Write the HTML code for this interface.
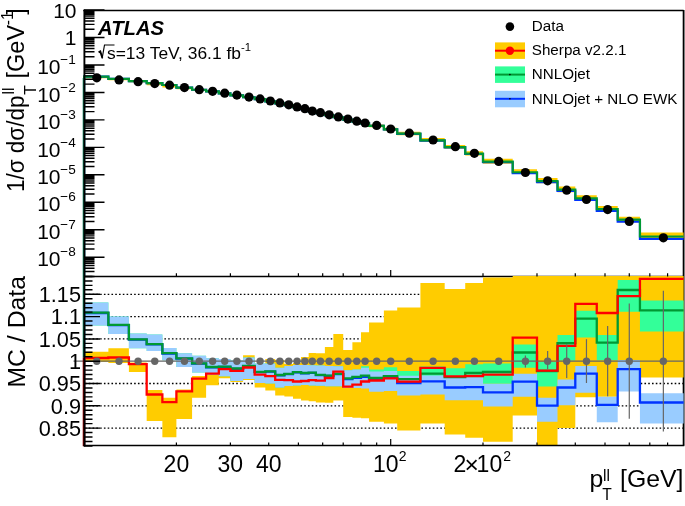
<!DOCTYPE html>
<html><head><meta charset="utf-8"><title>ATLAS pTll</title>
<style>html,body{margin:0;padding:0;background:#fff}svg{display:block}</style></head>
<body>
<svg width="685" height="506" viewBox="0 0 685 506" font-family="Liberation Sans, Arial, Helvetica, sans-serif">
<rect width="685" height="506" fill="#fff"/>
<defs><clipPath id="cb"><rect x="84" y="276" width="600.3" height="170"/></clipPath><clipPath id="ct"><rect x="83" y="10" width="601.3" height="266.5"/></clipPath></defs>
<g stroke="#000" stroke-width="1.5" fill="none">
<path d="M83.3 10.4 H683.6"/>
<path d="M683.6 10 V445.6" stroke-width="1.8"/>
<path d="M83.3 276.5 H683.6"/>
</g>
<g stroke="#000" stroke-width="1.3" stroke-dasharray="1.6 2.18" fill="none">
<path d="M85 294.3 H683.6"/>
<path d="M85 316.6 H683.6"/>
<path d="M85 338.9 H683.6"/>
<path d="M85 383.5 H683.6"/>
<path d="M85 405.8 H683.6"/>
<path d="M85 428.1 H683.6"/>
</g>
<g clip-path="url(#cb)">
<path d="M84.1 351.8 L108.38 351.8 L108.38 348.2 L128.9 348.2 L128.9 362.5 L146.68 362.5 L146.68 390 L162.37 390 L162.37 397.7 L176.4 397.7 L176.4 389.5 L192.08 389.5 L192.08 376 L206.11 376 L206.11 371.5 L218.8 371.5 L218.8 367 L230.39 367 L230.39 368 L243.08 368 L243.08 355.3 L254.66 355.3 L254.66 366 L265.32 366 L265.32 359 L275.19 359 L275.19 360 L284.37 360 L284.37 364 L292.97 364 L292.97 363 L301.04 363 L301.04 357.1 L308.65 357.1 L308.65 352.9 L315.85 352.9 L315.85 353.2 L324.88 353.2 L324.88 347 L333.34 347 L333.34 334 L343.21 334 L343.21 350 L352.39 350 L352.39 342.2 L360.99 342.2 L360.99 332.2 L369.06 332.2 L369.06 322.6 L383.87 322.6 L383.87 310.6 L397.2 310.6 L397.2 307.5 L420.41 307.5 L420.41 283 L444.69 283 L444.69 288.9 L465.22 288.9 L465.22 283 L483 283 L483 277.6 L512.71 277.6 L512.71 276 L536.99 276 L536.99 276 L557.51 276 L557.51 276 L575.29 276 L575.29 276 L596.77 276 L596.77 276 L617.7 276 L617.7 276 L639.94 276 L639.94 276 L683.6 276 L683.6 377.6 L639.94 377.6 L639.94 391 L617.7 391 L617.7 396.8 L596.77 396.8 L596.77 397.3 L575.29 397.3 L575.29 427.9 L557.51 427.9 L557.51 445.5 L536.99 445.5 L536.99 415.4 L512.71 415.4 L512.71 441.8 L483 441.8 L483 437.7 L465.22 437.7 L465.22 434.6 L444.69 434.6 L444.69 423.4 L420.41 423.4 L420.41 430.5 L397.2 430.5 L397.2 423.4 L383.87 423.4 L383.87 421.7 L369.06 421.7 L369.06 418.2 L360.99 418.2 L360.99 417.7 L352.39 417.7 L352.39 417 L343.21 417 L343.21 400.6 L333.34 400.6 L333.34 402.8 L324.88 402.8 L324.88 402.6 L315.85 402.6 L315.85 401.3 L308.65 401.3 L308.65 400.5 L301.04 400.5 L301.04 398.8 L292.97 398.8 L292.97 396.6 L284.37 396.6 L284.37 395.5 L275.19 395.5 L275.19 390.4 L265.32 390.4 L265.32 387.4 L254.66 387.4 L254.66 380.1 L243.08 380.1 L243.08 381.9 L230.39 381.9 L230.39 378.2 L218.8 378.2 L218.8 385.3 L206.11 385.3 L206.11 397.7 L192.08 397.7 L192.08 419 L176.4 419 L176.4 437.3 L162.37 437.3 L162.37 421.1 L146.68 421.1 L146.68 371.9 L128.9 371.9 L128.9 363 L108.38 363 L108.38 362 L84.1 362Z" fill="#ffcc00"/>
<path d="M84.1 302.4 L108.38 302.4 L108.38 316.6 L128.9 316.6 L128.9 333.6 L146.68 333.6 L146.68 334.4 L162.37 334.4 L162.37 347.9 L176.4 347.9 L176.4 353.2 L192.08 353.2 L192.08 355.8 L206.11 355.8 L206.11 358.2 L218.8 358.2 L218.8 359 L230.39 359 L230.39 360.5 L243.08 360.5 L243.08 357.5 L254.66 357.5 L254.66 363.4 L265.32 363.4 L265.32 363.4 L275.19 363.4 L275.19 367.7 L284.37 367.7 L284.37 365.9 L292.97 365.9 L292.97 365 L301.04 365 L301.04 365 L308.65 365 L308.65 365.3 L315.85 365.3 L315.85 365.6 L324.88 365.6 L324.88 365.9 L333.34 365.9 L333.34 366.2 L343.21 366.2 L343.21 370.3 L352.39 370.3 L352.39 369.4 L360.99 369.4 L360.99 366.2 L369.06 366.2 L369.06 369.4 L383.87 369.4 L383.87 367.3 L397.2 367.3 L397.2 371.1 L420.41 371.1 L420.41 366.6 L444.69 366.6 L444.69 368.3 L465.22 368.3 L465.22 364.2 L483 364.2 L483 363.5 L512.71 363.5 L512.71 344.5 L536.99 344.5 L536.99 362 L557.51 362 L557.51 335.1 L575.29 335.1 L575.29 310.7 L596.77 310.7 L596.77 335 L617.7 335 L617.7 279.9 L639.94 279.9 L639.94 300.6 L683.6 300.6 L683.6 331.4 L639.94 331.4 L639.94 311.8 L617.7 311.8 L617.7 360.3 L596.77 360.3 L596.77 337.6 L575.29 337.6 L575.29 360.4 L557.51 360.4 L557.51 386.6 L536.99 386.6 L536.99 367.8 L512.71 367.8 L512.71 383.8 L483 383.8 L483 381.4 L465.22 381.4 L465.22 386.1 L444.69 386.1 L444.69 380.8 L420.41 380.8 L420.41 387.1 L397.2 387.1 L397.2 385.1 L383.87 385.1 L383.87 386.6 L369.06 386.6 L369.06 385.2 L360.99 385.2 L360.99 388.1 L352.39 388.1 L352.39 388.1 L343.21 388.1 L343.21 386.3 L333.34 386.3 L333.34 386.3 L324.88 386.3 L324.88 385.8 L315.85 385.8 L315.85 385.4 L308.65 385.4 L308.65 385.1 L301.04 385.1 L301.04 385.5 L292.97 385.5 L292.97 386 L284.37 386 L284.37 387.4 L275.19 387.4 L275.19 383.5 L265.32 383.5 L265.32 383.1 L254.66 383.1 L254.66 379.1 L243.08 379.1 L243.08 380.9 L230.39 380.9 L230.39 376.2 L218.8 376.2 L218.8 375 L206.11 375 L206.11 372.4 L192.08 372.4 L192.08 367.1 L176.4 367.1 L176.4 360.3 L162.37 360.3 L162.37 350.9 L146.68 350.9 L146.68 348.2 L128.9 348.2 L128.9 334 L108.38 334 L108.38 325.5 L84.1 325.5Z" fill="#33ff99"/>
<path d="M84.1 302.4 L108.38 302.4 L108.38 316.6 L128.9 316.6 L128.9 333.6 L146.68 333.6 L146.68 334.4 L162.37 334.4 L162.37 347.9 L176.4 347.9 L176.4 353.2 L192.08 353.2 L192.08 355.8 L206.11 355.8 L206.11 358.2 L218.8 358.2 L218.8 359 L230.39 359 L230.39 360.5 L243.08 360.5 L243.08 357.5 L254.66 357.5 L254.66 363.4 L265.32 363.4 L265.32 363.4 L275.19 363.4 L275.19 367.7 L284.37 367.7 L284.37 365.9 L292.97 365.9 L292.97 365 L301.04 365 L301.04 365 L308.65 365 L308.65 365.3 L315.85 365.3 L315.85 365.6 L324.88 365.6 L324.88 365.9 L333.34 365.9 L333.34 366.2 L343.21 366.2 L343.21 370.3 L352.39 370.3 L352.39 369.4 L360.99 369.4 L360.99 367.7 L369.06 367.7 L369.06 371.6 L383.87 371.6 L383.87 370.9 L397.2 370.9 L397.2 375.8 L420.41 375.8 L420.41 375.4 L444.69 375.4 L444.69 378.1 L465.22 378.1 L465.22 377.2 L483 377.2 L483 383.8 L512.71 383.8 L512.71 373.7 L536.99 373.7 L536.99 397.7 L557.51 397.7 L557.51 379.5 L575.29 379.5 L575.29 366 L596.77 366 L596.77 396.8 L617.7 396.8 L617.7 360 L639.94 360 L639.94 393.3 L683.6 393.3 L683.6 423.5 L639.94 423.5 L639.94 391.5 L617.7 391.5 L617.7 422.2 L596.77 422.2 L596.77 392.7 L575.29 392.7 L575.29 405.3 L557.51 405.3 L557.51 421.7 L536.99 421.7 L536.99 396.8 L512.71 396.8 L512.71 406.6 L483 406.6 L483 400.3 L465.22 400.3 L465.22 400.3 L444.69 400.3 L444.69 394.5 L420.41 394.5 L420.41 395.6 L397.2 395.6 L397.2 391.1 L383.87 391.1 L383.87 391.7 L369.06 391.7 L369.06 388.6 L360.99 388.6 L360.99 388.1 L352.39 388.1 L352.39 388.1 L343.21 388.1 L343.21 386.3 L333.34 386.3 L333.34 386.3 L324.88 386.3 L324.88 385.8 L315.85 385.8 L315.85 385.4 L308.65 385.4 L308.65 385.1 L301.04 385.1 L301.04 385.5 L292.97 385.5 L292.97 386 L284.37 386 L284.37 387.4 L275.19 387.4 L275.19 383.5 L265.32 383.5 L265.32 383.1 L254.66 383.1 L254.66 379.1 L243.08 379.1 L243.08 380.9 L230.39 380.9 L230.39 376.2 L218.8 376.2 L218.8 375 L206.11 375 L206.11 372.4 L192.08 372.4 L192.08 367.1 L176.4 367.1 L176.4 360.3 L162.37 360.3 L162.37 350.9 L146.68 350.9 L146.68 348.2 L128.9 348.2 L128.9 334 L108.38 334 L108.38 325.5 L84.1 325.5Z" fill="#99ccff"/>
<path d="M84.1 450.6 L84.1 313 L108.38 313 L108.38 325.1 L128.9 325.1 L128.9 339.6 L146.68 339.6 L146.68 344.4 L162.37 344.4 L162.37 353.5 L176.4 353.5 L176.4 358.7 L192.08 358.7 L192.08 363.7 L206.11 363.7 L206.11 367.3 L218.8 367.3 L218.8 367 L230.39 367 L230.39 368.8 L243.08 368.8 L243.08 366.3 L254.66 366.3 L254.66 372.1 L265.32 372.1 L265.32 371.7 L275.19 371.7 L275.19 375.3 L284.37 375.3 L284.37 374.2 L292.97 374.2 L292.97 372.4 L301.04 372.4 L301.04 373.3 L308.65 373.3 L308.65 372.9 L315.85 372.9 L315.85 375.1 L324.88 375.1 L324.88 376 L333.34 376 L333.34 374.2 L343.21 374.2 L343.21 379.2 L352.39 379.2 L352.39 377.8 L360.99 377.8 L360.99 376.9 L369.06 376.9 L369.06 378.9 L383.87 378.9 L383.87 377.6 L397.2 377.6 L397.2 383.2 L420.41 383.2 L420.41 381.3 L444.69 381.3 L444.69 387.5 L465.22 387.5 L465.22 387.2 L483 387.2 L483 392.3 L512.71 392.3 L512.71 381.7 L536.99 381.7 L536.99 405.7 L557.51 405.7 L557.51 387.5 L575.29 387.5 L575.29 373.7 L596.77 373.7 L596.77 404.8 L617.7 404.8 L617.7 369.2 L639.94 369.2 L639.94 402.5 L683.6 402.5" fill="none" stroke="#0033ff" stroke-width="2.3"/>
<path d="M84.1 450.6 L84.1 312.7 L108.38 312.7 L108.38 324.8 L128.9 324.8 L128.9 339.3 L146.68 339.3 L146.68 344.1 L162.37 344.1 L162.37 353.2 L176.4 353.2 L176.4 358.4 L192.08 358.4 L192.08 363.4 L206.11 363.4 L206.11 367 L218.8 367 L218.8 366.7 L230.39 366.7 L230.39 368.5 L243.08 368.5 L243.08 366 L254.66 366 L254.66 371.8 L265.32 371.8 L265.32 371.4 L275.19 371.4 L275.19 375 L284.37 375 L284.37 373.9 L292.97 373.9 L292.97 372.1 L301.04 372.1 L301.04 373 L308.65 373 L308.65 372.6 L315.85 372.6 L315.85 374.8 L324.88 374.8 L324.88 375.7 L333.34 375.7 L333.34 373.9 L343.21 373.9 L343.21 378.3 L352.39 378.3 L352.39 376.9 L360.99 376.9 L360.99 375.7 L369.06 375.7 L369.06 378 L383.87 378 L383.87 376.2 L397.2 376.2 L397.2 379.1 L420.41 379.1 L420.41 373.7 L444.69 373.7 L444.69 377.2 L465.22 377.2 L465.22 372.8 L483 372.8 L483 371.9 L512.71 371.9 L512.71 352.5 L536.99 352.5 L536.99 371 L557.51 371 L557.51 343.1 L575.29 343.1 L575.29 318.7 L596.77 318.7 L596.77 342.7 L617.7 342.7 L617.7 290 L639.94 290 L639.94 310.4 L683.6 310.4" fill="none" stroke="#009933" stroke-width="2.3"/>
<path d="M84.1 450.6 L84.1 358 L108.38 358 L108.38 357.5 L128.9 357.5 L128.9 364.2 L146.68 364.2 L146.68 394.5 L162.37 394.5 L162.37 402.1 L176.4 402.1 L176.4 391.4 L192.08 391.4 L192.08 378.6 L206.11 378.6 L206.11 373.6 L218.8 373.6 L218.8 369.1 L230.39 369.1 L230.39 370.8 L243.08 370.8 L243.08 367.5 L254.66 367.5 L254.66 374.7 L265.32 374.7 L265.32 376.2 L275.19 376.2 L275.19 379.8 L284.37 379.8 L284.37 380.1 L292.97 380.1 L292.97 381.5 L301.04 381.5 L301.04 381 L308.65 381 L308.65 380.1 L315.85 380.1 L315.85 380.6 L324.88 380.6 L324.88 378 L333.34 378 L333.34 371.6 L343.21 371.6 L343.21 386.7 L352.39 386.7 L352.39 384.6 L360.99 384.6 L360.99 381.5 L369.06 381.5 L369.06 380.5 L383.87 380.5 L383.87 378.3 L397.2 378.3 L397.2 381.6 L420.41 381.6 L420.41 367.8 L444.69 367.8 L444.69 376.3 L465.22 376.3 L465.22 376 L483 376 L483 374.6 L512.71 374.6 L512.71 337.6 L536.99 337.6 L536.99 370.6 L557.51 370.6 L557.51 345.8 L575.29 345.8 L575.29 303.8 L596.77 303.8 L596.77 313 L617.7 313 L617.7 296.1 L639.94 296.1 L639.94 278.9 L683.6 278.9" fill="none" stroke="#ff0000" stroke-width="2.3"/>
</g>
<path d="M73.5 361.2 H683.6" stroke="#666666" stroke-width="1.3"/>
<g stroke="#666666" stroke-width="1.2">
<path d="M525.4 355.4 V367.4"/>
<path d="M547.64 351.1 V369.2"/>
<path d="M566.7 344.3 V378.1"/>
<path d="M586.46 339.2 V383"/>
<path d="M607.64 326 V396.2"/>
<path d="M629.28 303.5 V418.7"/>
<path d="M663.36 290.8 V431.5"/>
</g>
<g fill="#666666">
<circle cx="96.79" cy="361.2" r="3.7"/>
<circle cx="119.04" cy="361.2" r="3.7"/>
<circle cx="138.09" cy="361.2" r="3.7"/>
<circle cx="154.76" cy="361.2" r="3.7"/>
<circle cx="169.57" cy="361.2" r="3.7"/>
<circle cx="184.47" cy="361.2" r="3.7"/>
<circle cx="199.28" cy="361.2" r="3.7"/>
<circle cx="212.61" cy="361.2" r="3.7"/>
<circle cx="224.72" cy="361.2" r="3.7"/>
<circle cx="236.88" cy="361.2" r="3.7"/>
<circle cx="249" cy="361.2" r="3.7"/>
<circle cx="260.1" cy="361.2" r="3.7"/>
<circle cx="270.35" cy="361.2" r="3.7"/>
<circle cx="279.86" cy="361.2" r="3.7"/>
<circle cx="288.74" cy="361.2" r="3.7"/>
<circle cx="297.07" cy="361.2" r="3.7"/>
<circle cx="304.9" cy="361.2" r="3.7"/>
<circle cx="312.3" cy="361.2" r="3.7"/>
<circle cx="320.44" cy="361.2" r="3.7"/>
<circle cx="329.18" cy="361.2" r="3.7"/>
<circle cx="338.36" cy="361.2" r="3.7"/>
<circle cx="347.88" cy="361.2" r="3.7"/>
<circle cx="356.76" cy="361.2" r="3.7"/>
<circle cx="365.08" cy="361.2" r="3.7"/>
<circle cx="376.67" cy="361.2" r="3.7"/>
<circle cx="390.7" cy="361.2" r="3.7"/>
<circle cx="409.31" cy="361.2" r="3.7"/>
<circle cx="433.1" cy="361.2" r="3.7"/>
<circle cx="455.35" cy="361.2" r="3.7"/>
<circle cx="474.4" cy="361.2" r="3.7"/>
<circle cx="498.68" cy="361.2" r="3.7"/>
<circle cx="525.4" cy="361.2" r="3.7"/>
<circle cx="547.64" cy="361.2" r="3.7"/>
<circle cx="566.7" cy="361.2" r="3.7"/>
<circle cx="586.46" cy="361.2" r="3.7"/>
<circle cx="607.64" cy="361.2" r="3.7"/>
<circle cx="629.28" cy="361.2" r="3.7"/>
<circle cx="663.36" cy="361.2" r="3.7"/>
</g>
<g clip-path="url(#ct)">
<path d="M84.1 77.21 L108.38 77.21 L108.38 79.3 L128.9 79.3 L128.9 81.28 L146.68 81.28 L146.68 84.03 L162.37 84.03 L162.37 85.85 L176.4 85.85 L176.4 87.94 L192.08 87.94 L192.08 89.68 L206.11 89.68 L206.11 91.14 L218.8 91.14 L218.8 92.91 L230.39 92.91 L230.39 94.86 L243.08 94.86 L243.08 96.77 L254.66 96.77 L254.66 98.77 L265.32 98.77 L265.32 100.91 L275.19 100.91 L275.19 102.87 L284.37 102.87 L284.37 104.82 L292.97 104.82 L292.97 106.95 L301.04 106.95 L301.04 108.59 L308.65 108.59 L308.65 110.88 L315.85 110.88 L315.85 112.49 L324.88 112.49 L324.88 114.42 L333.34 114.42 L333.34 116.19 L343.21 116.19 L343.21 118.8 L352.39 118.8 L352.39 120.7 L360.99 120.7 L360.99 122.25 L369.06 122.25 L369.06 124.41 L383.87 124.41 L383.87 127.71 L397.2 127.71 L397.2 131.84 L420.41 131.84 L420.41 138.06 L444.69 138.06 L444.69 144.9 L465.22 144.9 L465.22 151.36 L483 151.36 L483 158.83 L512.71 158.83 L512.71 169.19 L536.99 169.19 L536.99 177.95 L557.51 177.95 L557.51 186.62 L575.29 186.62 L575.29 195.32 L596.77 195.32 L596.77 206.02 L617.7 206.02 L617.7 216.8 L639.94 216.8 L639.94 232.42 L683.6 232.42 L683.6 238.25 L639.94 238.25 L639.94 222.23 L617.7 222.23 L617.7 210.6 L596.77 210.6 L596.77 200.51 L575.29 200.51 L575.29 192.14 L557.51 192.14 L557.51 183.31 L536.99 183.31 L536.99 174.05 L512.71 174.05 L512.71 163.79 L483 163.79 L483 155.56 L465.22 155.56 L465.22 148.86 L444.69 148.86 L444.69 141.8 L420.41 141.8 L420.41 135.22 L397.2 135.22 L397.2 130.8 L383.87 130.8 L383.87 127.15 L369.06 127.15 L369.06 124.64 L360.99 124.64 L360.99 122.82 L352.39 122.82 L352.39 120.7 L343.21 120.7 L343.21 118.01 L333.34 118.01 L333.34 115.97 L324.88 115.97 L324.88 113.87 L315.85 113.87 L315.85 112.23 L308.65 112.23 L308.65 109.81 L301.04 109.81 L301.04 107.96 L292.97 107.96 L292.97 105.82 L284.37 105.82 L284.37 103.91 L275.19 103.91 L275.19 101.91 L265.32 101.91 L265.32 99.77 L254.66 99.77 L254.66 97.77 L243.08 97.77 L243.08 95.86 L230.39 95.86 L230.39 93.91 L218.8 93.91 L218.8 92.14 L206.11 92.14 L206.11 90.72 L192.08 90.72 L192.08 89.26 L176.4 89.26 L176.4 87.44 L162.37 87.44 L162.37 85.33 L146.68 85.33 L146.68 82.28 L128.9 82.28 L128.9 80.3 L108.38 80.3 L108.38 78.21 L84.1 78.21Z" fill="#ffcc00"/>
<path d="M84.1 281.5 L84.1 76.57 L108.38 76.57 L108.38 78.97 L128.9 78.97 L128.9 81.13 L146.68 81.13 L146.68 83.16 L162.37 83.16 L162.37 84.99 L176.4 84.99 L176.4 87.53 L192.08 87.53 L192.08 89.77 L206.11 89.77 L206.11 91.47 L218.8 91.47 L218.8 93.36 L230.39 93.36 L230.39 95.31 L243.08 95.31 L243.08 97.24 L254.66 97.24 L254.66 99.2 L265.32 99.2 L265.32 101.29 L275.19 101.29 L275.19 103.29 L284.37 103.29 L284.37 105.15 L292.97 105.15 L292.97 107.2 L301.04 107.2 L301.04 109.03 L308.65 109.03 L308.65 111.42 L315.85 111.42 L315.85 113.08 L324.88 113.08 L324.88 115.2 L333.34 115.2 L333.34 117.25 L343.21 117.25 L343.21 119.59 L352.39 119.59 L352.39 121.65 L360.99 121.65 L360.99 123.43 L369.06 123.43 L369.06 125.89 L383.87 125.89 L383.87 129.45 L397.2 129.45 L397.2 133.81 L420.41 133.81 L420.41 140.55 L444.69 140.55 L444.69 147.43 L465.22 147.43 L465.22 154.02 L483 154.02 L483 162.27 L512.71 162.27 L512.71 173.06 L536.99 173.06 L536.99 182.06 L557.51 182.06 L557.51 190.93 L575.29 190.93 L575.29 199.84 L596.77 199.84 L596.77 210.83 L617.7 210.83 L617.7 221.62 L639.94 221.62 L639.94 238.96 L683.6 238.96" fill="none" stroke="#0033ff" stroke-width="2.2"/>
<path d="M84.1 281.5 L84.1 76.56 L108.38 76.56 L108.38 78.96 L128.9 78.96 L128.9 81.13 L146.68 81.13 L146.68 83.15 L162.37 83.15 L162.37 84.99 L176.4 84.99 L176.4 87.53 L192.08 87.53 L192.08 89.76 L206.11 89.76 L206.11 91.46 L218.8 91.46 L218.8 93.35 L230.39 93.35 L230.39 95.3 L243.08 95.3 L243.08 97.23 L254.66 97.23 L254.66 99.19 L265.32 99.19 L265.32 101.28 L275.19 101.28 L275.19 103.28 L284.37 103.28 L284.37 105.15 L292.97 105.15 L292.97 107.2 L301.04 107.2 L301.04 109.02 L308.65 109.02 L308.65 111.41 L315.85 111.41 L315.85 113.07 L324.88 113.07 L324.88 115.2 L333.34 115.2 L333.34 117.25 L343.21 117.25 L343.21 119.57 L352.39 119.57 L352.39 121.63 L360.99 121.63 L360.99 123.4 L369.06 123.4 L369.06 125.86 L383.87 125.86 L383.87 129.41 L397.2 129.41 L397.2 133.69 L420.41 133.69 L420.41 140.34 L444.69 140.34 L444.69 147.14 L465.22 147.14 L465.22 153.62 L483 153.62 L483 161.69 L512.71 161.69 L512.71 172.27 L536.99 172.27 L536.99 181.07 L557.51 181.07 L557.51 189.72 L575.29 189.72 L575.29 198.41 L596.77 198.41 L596.77 209.11 L617.7 209.11 L617.7 219.63 L639.94 219.63 L639.94 236.51 L683.6 236.51" fill="none" stroke="#009933" stroke-width="2.2"/>
</g>
<g fill="#000">
<circle cx="96.79" cy="77.8" r="4.6"/>
<circle cx="119.04" cy="79.9" r="4.6"/>
<circle cx="138.09" cy="81.7" r="4.6"/>
<circle cx="154.76" cy="83.6" r="4.6"/>
<circle cx="169.57" cy="85.2" r="4.6"/>
<circle cx="184.47" cy="87.6" r="4.6"/>
<circle cx="199.28" cy="89.7" r="4.6"/>
<circle cx="212.61" cy="91.3" r="4.6"/>
<circle cx="224.72" cy="93.2" r="4.6"/>
<circle cx="236.88" cy="95.1" r="4.6"/>
<circle cx="249" cy="97.1" r="4.6"/>
<circle cx="260.1" cy="98.9" r="4.6"/>
<circle cx="270.35" cy="101" r="4.6"/>
<circle cx="279.86" cy="102.9" r="4.6"/>
<circle cx="288.74" cy="104.8" r="4.6"/>
<circle cx="297.07" cy="106.9" r="4.6"/>
<circle cx="304.9" cy="108.7" r="4.6"/>
<circle cx="312.3" cy="111.1" r="4.6"/>
<circle cx="320.44" cy="112.7" r="4.6"/>
<circle cx="329.18" cy="114.8" r="4.6"/>
<circle cx="338.36" cy="116.9" r="4.6"/>
<circle cx="347.88" cy="119.1" r="4.6"/>
<circle cx="356.76" cy="121.2" r="4.6"/>
<circle cx="365.08" cy="123" r="4.6"/>
<circle cx="376.67" cy="125.4" r="4.6"/>
<circle cx="390.7" cy="129" r="4.6"/>
<circle cx="409.31" cy="133.2" r="4.6"/>
<circle cx="433.1" cy="140" r="4.6"/>
<circle cx="455.35" cy="146.7" r="4.6"/>
<circle cx="474.4" cy="153.3" r="4.6"/>
<circle cx="498.68" cy="161.4" r="4.6"/>
<circle cx="525.4" cy="172.5" r="4.6"/>
<circle cx="547.64" cy="180.8" r="4.6"/>
<circle cx="566.7" cy="190.2" r="4.6"/>
<circle cx="586.46" cy="199.5" r="4.6"/>
<circle cx="607.64" cy="209.6" r="4.6"/>
<circle cx="629.28" cy="221.4" r="4.6"/>
<circle cx="663.36" cy="237.8" r="4.6"/>
</g>
<path d="M83.4 78 V357.5" stroke="#08805c" stroke-width="1.4"/><path d="M83.4 357.5 V446.2" stroke="#a00000" stroke-width="1.4"/>
<g stroke="#000" fill="none">
<path d="M84.4 9.7 V446.3" stroke-width="1.9"/>
<path d="M83.5 445.6 H684.3" stroke-width="1.5"/>
<path d="M84 10 h20.5 M84 29.2 h10.5 M84 24.36 h10.5 M84 20.93 h10.5 M84 18.27 h10.5 M84 16.09 h10.5 M84 14.26 h10.5 M84 12.66 h10.5 M84 11.26 h10.5 M84 37.47 h20.5 M84 56.67 h10.5 M84 51.83 h10.5 M84 48.4 h10.5 M84 45.74 h10.5 M84 43.56 h10.5 M84 41.73 h10.5 M84 40.13 h10.5 M84 38.73 h10.5 M84 64.94 h20.5 M84 84.14 h10.5 M84 79.3 h10.5 M84 75.87 h10.5 M84 73.21 h10.5 M84 71.03 h10.5 M84 69.2 h10.5 M84 67.6 h10.5 M84 66.2 h10.5 M84 92.41 h20.5 M84 111.61 h10.5 M84 106.77 h10.5 M84 103.34 h10.5 M84 100.68 h10.5 M84 98.5 h10.5 M84 96.67 h10.5 M84 95.07 h10.5 M84 93.67 h10.5 M84 119.88 h20.5 M84 139.08 h10.5 M84 134.24 h10.5 M84 130.81 h10.5 M84 128.15 h10.5 M84 125.97 h10.5 M84 124.14 h10.5 M84 122.54 h10.5 M84 121.14 h10.5 M84 147.35 h20.5 M84 166.55 h10.5 M84 161.71 h10.5 M84 158.28 h10.5 M84 155.62 h10.5 M84 153.44 h10.5 M84 151.61 h10.5 M84 150.01 h10.5 M84 148.61 h10.5 M84 174.82 h20.5 M84 194.02 h10.5 M84 189.18 h10.5 M84 185.75 h10.5 M84 183.09 h10.5 M84 180.91 h10.5 M84 179.08 h10.5 M84 177.48 h10.5 M84 176.08 h10.5 M84 202.29 h20.5 M84 221.49 h10.5 M84 216.65 h10.5 M84 213.22 h10.5 M84 210.56 h10.5 M84 208.38 h10.5 M84 206.55 h10.5 M84 204.95 h10.5 M84 203.55 h10.5 M84 229.76 h20.5 M84 248.96 h10.5 M84 244.12 h10.5 M84 240.69 h10.5 M84 238.03 h10.5 M84 235.85 h10.5 M84 234.02 h10.5 M84 232.42 h10.5 M84 231.02 h10.5 M84 257.23 h20.5 M84 276.43 h10.5 M84 271.59 h10.5 M84 268.16 h10.5 M84 265.5 h10.5 M84 263.32 h10.5 M84 261.49 h10.5 M84 259.89 h10.5 M84 258.49 h10.5 M84 271.59 h10.5 M84 268.16 h10.5 M84 265.5 h10.5 M84 263.32 h10.5 M84 261.49 h10.5 M84 259.89 h10.5 M84 258.49 h10.5" stroke-width="1.45"/>
<path d="M84 445.94 h8.5 M84 441.48 h8.5 M84 437.02 h8.5 M84 432.56 h8.5 M84 428.1 h16 M84 423.64 h8.5 M84 419.18 h8.5 M84 414.72 h8.5 M84 410.26 h8.5 M84 405.8 h16 M84 401.34 h8.5 M84 396.88 h8.5 M84 392.42 h8.5 M84 387.96 h8.5 M84 383.5 h16 M84 379.04 h8.5 M84 374.58 h8.5 M84 370.12 h8.5 M84 365.66 h8.5 M84 361.2 h16 M84 356.74 h8.5 M84 352.28 h8.5 M84 347.82 h8.5 M84 343.36 h8.5 M84 338.9 h16 M84 334.44 h8.5 M84 329.98 h8.5 M84 325.52 h8.5 M84 321.06 h8.5 M84 316.6 h16 M84 312.14 h8.5 M84 307.68 h8.5 M84 303.22 h8.5 M84 298.76 h8.5 M84 294.3 h16 M84 289.84 h8.5 M84 285.38 h8.5 M84 280.92 h8.5 M84 276.46 h8.5" stroke-width="1.45"/>
<path d="M176.4 445.6 v-3.2 M176.4 276.5 v-3.2 M230.39 445.6 v-3.2 M230.39 276.5 v-3.2 M268.69 445.6 v-3.2 M268.69 276.5 v-3.2 M298.4 445.6 v-3.2 M298.4 276.5 v-3.2 M322.68 445.6 v-3.2 M322.68 276.5 v-3.2 M343.21 445.6 v-3.2 M343.21 276.5 v-3.2 M360.99 445.6 v-3.2 M360.99 276.5 v-3.2 M376.67 445.6 v-3.2 M376.67 276.5 v-3.2 M390.7 445.6 v-6.5 M390.7 276.5 v-6.5 M483 445.6 v-3.2 M483 276.5 v-3.2 M536.99 445.6 v-3.2 M536.99 276.5 v-3.2 M575.29 445.6 v-3.2 M575.29 276.5 v-3.2 M605 445.6 v-3.2 M605 276.5 v-3.2 M629.28 445.6 v-3.2 M629.28 276.5 v-3.2 M649.81 445.6 v-3.2 M649.81 276.5 v-3.2 M667.59 445.6 v-3.2 M667.59 276.5 v-3.2" stroke-width="1.2"/>
</g>
<g font-size="21" text-anchor="end" fill="#000">
<text x="76.5" y="17.6">10</text>
<text x="76.5" y="45.07">1</text>
<text x="60.5" y="74.14">10</text><text x="75.8" y="64.14" font-size="13.6">−1</text>
<text x="60.5" y="101.61">10</text><text x="75.8" y="91.61" font-size="13.6">−2</text>
<text x="60.5" y="129.08">10</text><text x="75.8" y="119.08" font-size="13.6">−3</text>
<text x="60.5" y="156.55">10</text><text x="75.8" y="146.55" font-size="13.6">−4</text>
<text x="60.5" y="184.02">10</text><text x="75.8" y="174.02" font-size="13.6">−5</text>
<text x="60.5" y="211.49">10</text><text x="75.8" y="201.49" font-size="13.6">−6</text>
<text x="60.5" y="238.96">10</text><text x="75.8" y="228.96" font-size="13.6">−7</text>
<text x="60.5" y="266.43">10</text><text x="75.8" y="256.43" font-size="13.6">−8</text>
</g>
<g font-size="21.7" text-anchor="end" fill="#000">
<text x="81" y="302.1">1.15</text>
<text x="81" y="324.4">1.1</text>
<text x="81" y="346.7">1.05</text>
<text x="81" y="369">1</text>
<text x="81" y="391.3">0.95</text>
<text x="81" y="413.6">0.9</text>
<text x="81" y="435.9">0.85</text>
</g>
<g font-size="23" text-anchor="middle" fill="#000">
<text x="176.4" y="472.2">20</text>
<text x="230.39" y="472.2">30</text>
<text x="268.69" y="472.2">40</text>
<g text-anchor="start"><text x="372.9" y="472.2">10</text><text x="398.8" y="460.8" font-size="14">2</text><text x="453.6" y="472.2">2</text><text x="464.6" y="473.2" font-size="24.5">×</text><text x="476.6" y="472.2">10</text><text x="503.3" y="460.8" font-size="14">2</text></g>
</g>
<g font-size="24.8"><text x="589.4" y="486.8">p</text><text x="603" y="481.4" font-size="15.6">ll</text><text x="602.3" y="499.8" font-size="15.6">T</text><text x="620" y="486.8">[GeV]</text></g>
<text transform="translate(24.8 387.6) rotate(-90)" font-size="24.8">MC / Data</text>
<g transform="translate(23.7 191) rotate(-90)" font-size="23.5"><text x="-1" y="0" textLength="96.5" lengthAdjust="spacingAndGlyphs">1/σ dσ/dp</text><text x="96.3" y="12.4" font-size="15.6">T</text><text x="96.6" y="-9.5" font-size="15.6">ll</text><text x="112.5" y="0">[GeV</text><text x="165.8" y="-10.9" font-size="15.6">-1</text><text x="176.3" y="0">]</text></g>
<text x="98" y="34.5" font-size="20.3" font-weight="bold" font-style="italic">ATLAS</text>
<path d="M98.6 52.4 l1.7 -1 l2 6.3" fill="none" stroke="#000" stroke-width="1.9" stroke-linejoin="miter"/><path d="M102.1 58.6 l2.4 -13.6 h10" fill="none" stroke="#000" stroke-width="1.15"/>
<text x="107" y="58.8" font-size="17.4">s=13 TeV, 36.1 fb<tspan font-size="11.3" dy="-7.5">-1</tspan></text>
<circle cx="509.9" cy="26.6" r="4.3" fill="#000"/>
<rect x="495" y="42.4" width="30" height="16.5" fill="#ffcc00"/>
<path d="M495 50.7 h30" stroke="#ff0000" stroke-width="2"/><circle cx="509.9" cy="50.7" r="4.2" fill="#ff0000"/>
<rect x="495" y="66.4" width="30" height="16.5" fill="#33ff99"/>
<path d="M495 74.6 h30" stroke="#009933" stroke-width="2"/><circle cx="509.9" cy="74.6" r="0.8" fill="#000"/>
<rect x="495" y="90.8" width="30" height="16.5" fill="#99ccff"/>
<path d="M495 98.8 h30" stroke="#0033ff" stroke-width="2"/><circle cx="509.9" cy="98.8" r="0.8" fill="#000"/>
<g font-size="15.2" fill="#000">
<text x="531.8" y="31">Data</text>
<text x="531.8" y="55.3">Sherpa v2.2.1</text>
<text x="531.8" y="79.3">NNLOjet</text>
<text x="531.8" y="103.6">NNLOjet + NLO EWK</text>
</g>
</svg>
</body></html>
